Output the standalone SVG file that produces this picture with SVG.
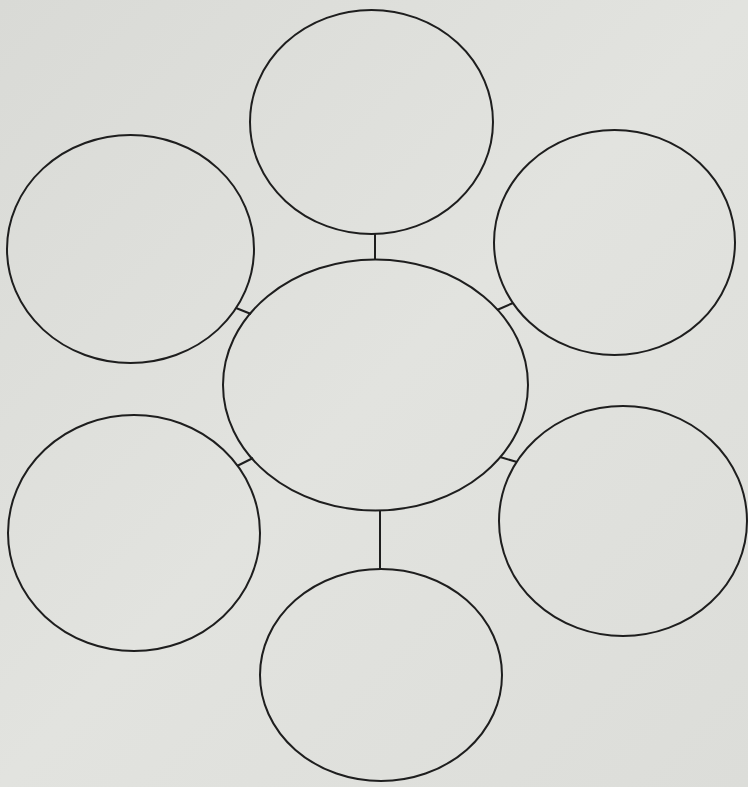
<svg xmlns="http://www.w3.org/2000/svg" width="748" height="787" viewBox="0 0 748 787">
  <defs>
    <linearGradient id="paper" x1="0" y1="0" x2="1" y2="1">
      <stop offset="0" stop-color="#d9dad6"/>
      <stop offset="0.5" stop-color="#e2e3df"/>
      <stop offset="1" stop-color="#dcddd9"/>
    </linearGradient>
    <style>
      .bubble { fill: none; stroke: #1e1e1e; stroke-width: 2; }
      .link { stroke: #1e1e1e; stroke-width: 2; fill: none; }
    </style>
  </defs>
  <rect x="0" y="0" width="748" height="787" fill="url(#paper)"/>
  <g id="connectors">
    <line class="link" x1="375" y1="234" x2="375" y2="260"/>
    <line class="link" x1="380" y1="510" x2="380" y2="569"/>
    <line class="link" x1="236" y1="308" x2="251" y2="314"/>
    <line class="link" x1="497" y1="310" x2="513" y2="303"/>
    <line class="link" x1="237" y1="466" x2="253" y2="458"/>
    <line class="link" x1="500" y1="457" x2="517" y2="462"/>
  </g>
  <g id="center"><ellipse class="bubble" cx="375.5" cy="385" rx="152.5" ry="125.5"/></g>
  <g id="top"><ellipse class="bubble" cx="371.5" cy="122" rx="121.5" ry="112"/></g>
  <g id="upper-left"><ellipse class="bubble" cx="130.5" cy="249" rx="123.5" ry="114"/></g>
  <g id="upper-right"><ellipse class="bubble" cx="614.5" cy="242.5" rx="120.5" ry="112.5"/></g>
  <g id="lower-left"><ellipse class="bubble" cx="134" cy="533" rx="126" ry="118"/></g>
  <g id="lower-right"><ellipse class="bubble" cx="623" cy="521" rx="124" ry="115"/></g>
  <g id="bottom"><ellipse class="bubble" cx="381" cy="675" rx="121" ry="106"/></g>
</svg>
